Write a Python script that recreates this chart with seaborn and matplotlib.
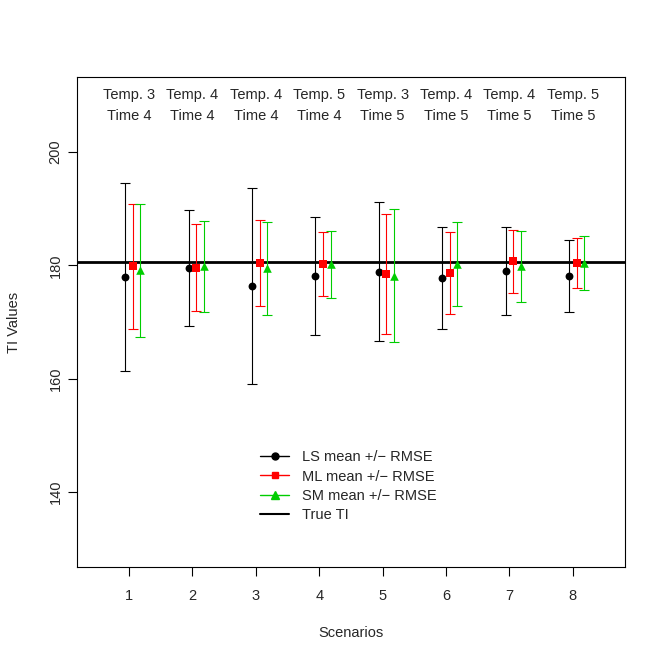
import numpy as np
import pandas as pd
import matplotlib
matplotlib.use('Agg')
import matplotlib.pyplot as plt
import seaborn as sns
from matplotlib.lines import Line2D

# ---------------- data ----------------
scenarios = [1, 2, 3, 4, 5, 6, 7, 8]
temp_labels = ["Temp. 3", "Temp. 4", "Temp. 4", "Temp. 5",
               "Temp. 3", "Temp. 4", "Temp. 4", "Temp. 5"]
time_labels = ["Time 4", "Time 4", "Time 4", "Time 4",
               "Time 5", "Time 5", "Time 5", "Time 5"]

ls_mean = [178.0, 179.5, 176.3, 178.2, 178.9, 177.8, 179.0, 178.1]
ls_rmse = [16.6, 10.2, 17.3, 10.4, 12.2, 9.0, 7.8, 6.4]
ml_mean = [179.8, 179.6, 180.4, 180.2, 178.5, 178.7, 180.7, 180.4]
ml_rmse = [11.0, 7.6, 7.6, 5.6, 10.6, 7.2, 5.6, 4.4]
sm_mean = [179.1, 179.8, 179.5, 180.2, 178.2, 180.2, 179.8, 180.4]
sm_rmse = [11.7, 8.0, 8.2, 5.9, 11.7, 7.4, 6.3, 4.8]
true_ti = 180.6

methods = ["LS", "ML", "SM"]
offsets = {"LS": -0.06, "ML": 0.06, "SM": 0.18}
colors = {"LS": "black", "ML": "#FF0000", "SM": "#00CD00"}
markers = {"LS": "o", "ML": "s", "SM": "^"}
msizes = {"LS": 32, "ML": 28, "SM": 38}

rows = []
for m, means, errs in [("LS", ls_mean, ls_rmse), ("ML", ml_mean, ml_rmse), ("SM", sm_mean, sm_rmse)]:
    for s, mu, e in zip(scenarios, means, errs):
        rows.append({"method": m, "x": s + offsets[m], "mean": mu, "rmse": e})
df = pd.DataFrame(rows)

# ---------------- plot ----------------
sns.set_theme(style="ticks")
plt.rcParams['font.family'] = ['Liberation Sans', 'DejaVu Sans']

fig = plt.figure(figsize=(6.64, 6.64), dpi=100)
ax = fig.add_axes([0.116, 0.146, 0.825, 0.738])

ax.axhline(true_ti, color='black', lw=2, zorder=1)

for m in methods:
    sub = df[df["method"] == m]
    ax.errorbar(sub["x"], sub["mean"], yerr=sub["rmse"], fmt='none',
                ecolor=colors[m], elinewidth=0.8, capsize=3.5, capthick=0.8, zorder=2)
    sns.scatterplot(data=sub, x="x", y="mean", ax=ax, color=colors[m],
                    marker=markers[m], s=msizes[m], edgecolor=colors[m],
                    linewidth=0, zorder=3, legend=False)

for s, t1, t2 in zip(scenarios, temp_labels, time_labels):
    ax.text(s, 210, t1, ha='center', va='center', fontsize=10.5)
    ax.text(s, 206.3, t2, ha='center', va='center', fontsize=10.5)

ax.set_xlim(0.18, 8.82)
ax.set_ylim(126.8, 213.2)
ax.set_xticks(scenarios)
ax.set_yticks([140, 160, 180, 200])
ax.set_yticklabels(["140", "160", "180", "200"], rotation=90, va='center')
ax.tick_params(axis='both', direction='out', length=6.5, width=0.8,
               labelsize=10.5, color='black')
ax.tick_params(axis='x', pad=9)
ax.tick_params(axis='y', pad=4)
ax.set_xlabel("Scenarios", fontsize=10.5, labelpad=17)
ax.set_ylabel("TI Values", fontsize=10.5, labelpad=20)
for sp in ax.spines.values():
    sp.set_color('black')
    sp.set_linewidth(0.8)

handles = [
    Line2D([], [], color='black', lw=1, marker='o', markersize=5),
    Line2D([], [], color='#FF0000', lw=1, marker='s', markersize=4.5),
    Line2D([], [], color='#00CD00', lw=1, marker='^', markersize=5.5),
    Line2D([], [], color='black', lw=1.5),
]
labels = ["LS mean +/\u2212 RMSE", "ML mean +/\u2212 RMSE",
          "SM mean +/\u2212 RMSE", "True TI"]
ax.legend(handles, labels, loc='upper left', bbox_to_anchor=(0.334, 0.238),
          frameon=False, fontsize=10.5, borderpad=0, borderaxespad=0,
          handlelength=2.0, handletextpad=0.9, labelspacing=0.35)

fig.savefig('out.png', dpi=100)
